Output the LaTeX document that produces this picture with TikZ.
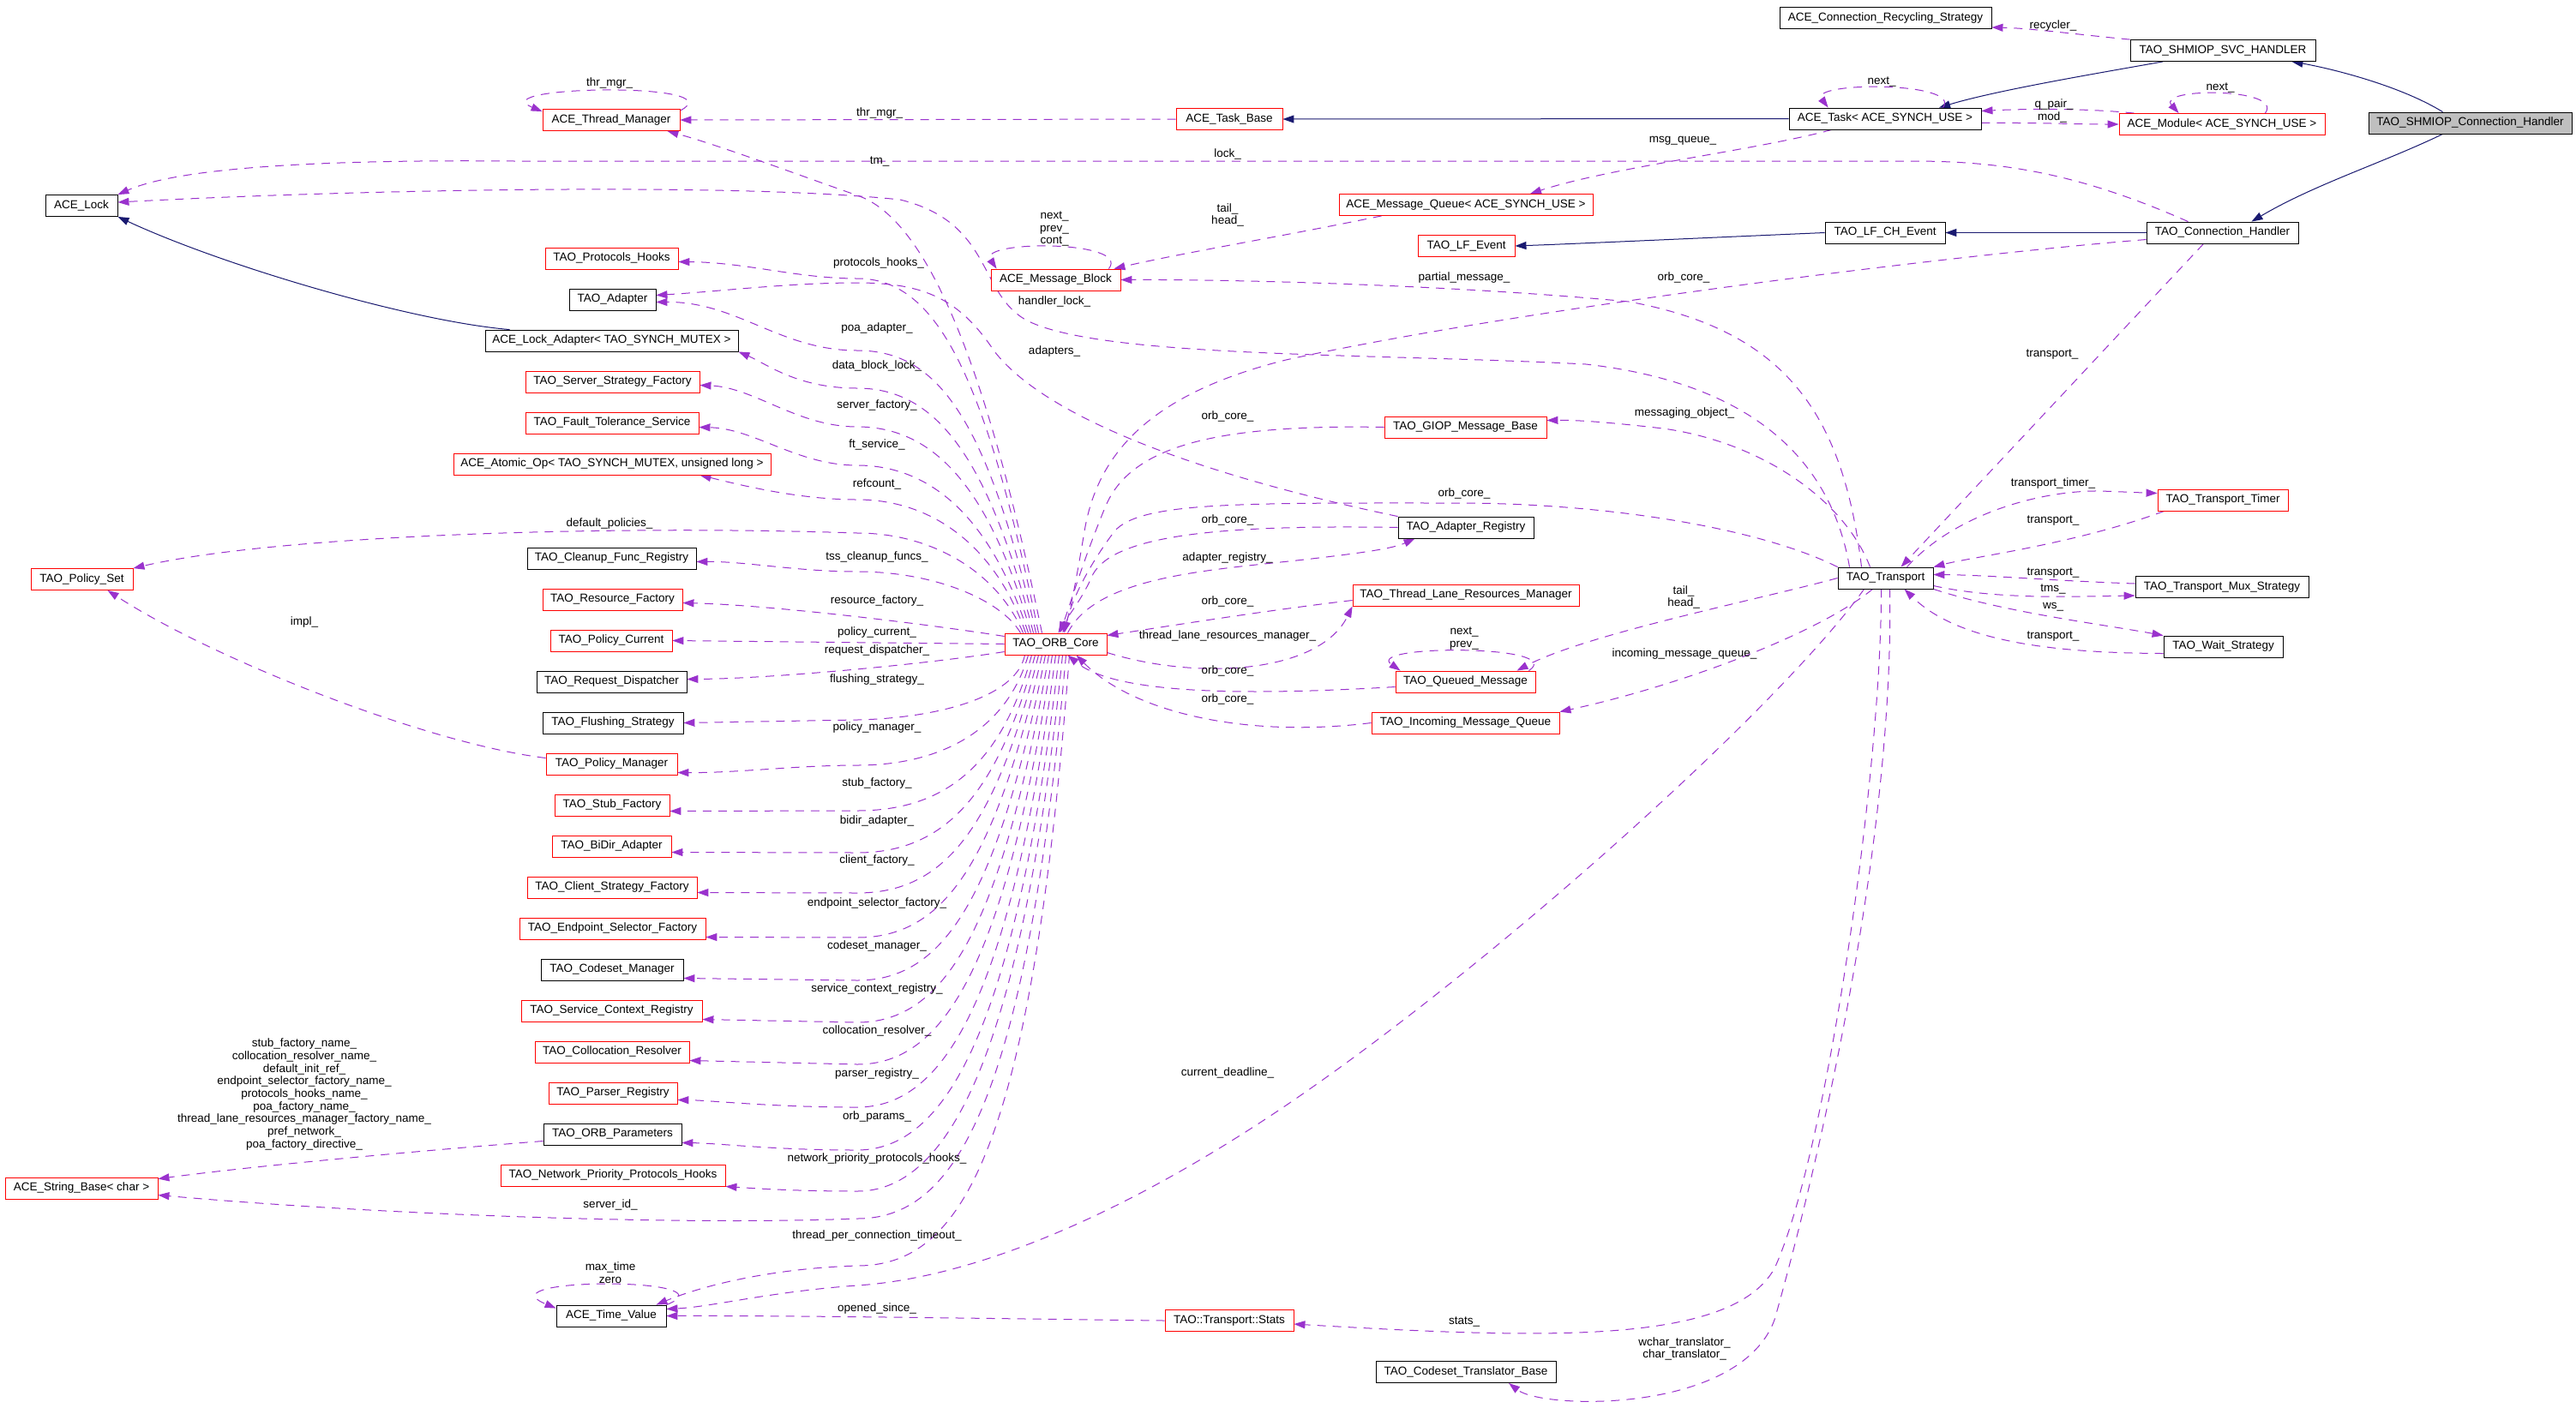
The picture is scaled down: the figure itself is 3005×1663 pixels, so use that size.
\documentclass[tikz,border=0pt]{standalone}
\usepackage{fontspec}
\setmainfont{Liberation Sans}
\usetikzlibrary{arrows.meta}
\definecolor{dxpurple}{HTML}{9A32CD}
\definecolor{dxnavy}{HTML}{191970}
\definecolor{dxgray}{HTML}{BFBFBF}
\newcommand{\dxfont}{\fontsize{13.5}{14.7}\selectfont}
\pgfdeclarelayer{bg}
\pgfdeclarelayer{edges}
\pgfsetlayers{bg,edges,main}
\tikzset{
  cls/.style={draw=black, line width=0.85pt, minimum height=25pt, inner sep=0pt, fill=white, font=\dxfont, text height=9.5pt, text depth=3pt},
  redc/.style={cls, draw=red},
  uedge/.style={draw=dxpurple, line width=1pt, dash pattern=on 10pt off 8pt, -{Triangle[length=13pt,width=9pt]}},
  iedge/.style={draw=dxnavy, line width=1pt, -{Triangle[length=13pt,width=9pt]}},
  lbl/.style={font=\dxfont, inner sep=0pt, text height=9.5pt, text depth=3pt},
  mlbl/.style={font=\dxfont, inner sep=0pt, align=center}
}
\begin{document}
\begin{tikzpicture}[x=1pt,y=-1pt]
\useasboundingbox (0,0) rectangle (3005,1663);
\begin{pgfonlayer}{bg}
\fill[white] (0,0) rectangle (3005,1663);
\end{pgfonlayer}
% ---------------- nodes ----------------
\node[redc, minimum width=160pt] (tm) at (713,140) {ACE\_Thread\_Manager};
\node[cls, minimum width=84pt] (lock) at (95,240) {ACE\_Lock};
\node[redc, minimum width=155pt] (ph) at (713.5,301.5) {TAO\_Protocols\_Hooks};
\node[cls, minimum width=101pt] (adp) at (714.5,349.5) {TAO\_Adapter};
\node[cls, minimum width=295pt] (lad) at (713.5,397.5) {ACE\_Lock\_Adapter< TAO\_SYNCH\_MUTEX >};
\node[redc, minimum width=203pt] (ssf) at (714.5,445.5) {TAO\_Server\_Strategy\_Factory};
\node[redc, minimum width=202pt] (fts) at (714,493.5) {TAO\_Fault\_Tolerance\_Service};
\node[redc, minimum width=370pt] (aop) at (714,541.5) {ACE\_Atomic\_Op< TAO\_SYNCH\_MUTEX, unsigned long >};
\node[redc, minimum width=119pt] (ps) at (95.5,676) {TAO\_Policy\_Set};
\node[cls, minimum width=197pt] (cfr) at (713.5,651.5) {TAO\_Cleanup\_Func\_Registry};
\node[redc, minimum width=163pt] (rf) at (714.5,699.5) {TAO\_Resource\_Factory};
\node[redc, minimum width=142pt] (pc) at (713,747.5) {TAO\_Policy\_Current};
\node[cls, minimum width=175pt] (rd) at (713.5,795.5) {TAO\_Request\_Dispatcher};
\node[cls, minimum width=164pt] (fs) at (715,843.5) {TAO\_Flushing\_Strategy};
\node[redc, minimum width=153pt] (pm) at (713.5,891.5) {TAO\_Policy\_Manager};
\node[redc, minimum width=134pt] (sf) at (714,939.5) {TAO\_Stub\_Factory};
\node[redc, minimum width=139pt] (bda) at (713.5,987.5) {TAO\_BiDir\_Adapter};
\node[redc, minimum width=198pt] (csf) at (714,1035.5) {TAO\_Client\_Strategy\_Factory};
\node[redc, minimum width=217pt] (esf) at (714.5,1083.5) {TAO\_Endpoint\_Selector\_Factory};
\node[cls, minimum width=166pt] (cm) at (714,1131.5) {TAO\_Codeset\_Manager};
\node[redc, minimum width=211pt] (scr) at (713.5,1179.5) {TAO\_Service\_Context\_Registry};
\node[redc, minimum width=180pt] (cr) at (714,1227.5) {TAO\_Collocation\_Resolver};
\node[redc, minimum width=150pt] (pr) at (715,1275.5) {TAO\_Parser\_Registry};
\node[cls, minimum width=161pt] (op) at (714.5,1323.5) {TAO\_ORB\_Parameters};
\node[redc, minimum width=262pt] (nph) at (715,1371.5) {TAO\_Network\_Priority\_Protocols\_Hooks};
\node[redc, minimum width=178pt] (sb) at (95,1386.5) {ACE\_String\_Base< char >};
\node[cls, minimum width=128pt] (tv) at (713,1535.5) {ACE\_Time\_Value};
\node[redc, minimum width=124pt] (tb) at (1434,139) {ACE\_Task\_Base};
\node[redc, minimum width=151pt] (mb) at (1231.5,326.5) {ACE\_Message\_Block};
\node[redc, minimum width=119pt] (orb) at (1231.5,751.5) {TAO\_ORB\_Core};
\node[redc, minimum width=150pt] (sts) at (1434,1541) {TAO::Transport::Stats};
\node[redc, minimum width=296pt] (mq) at (1710,239) {ACE\_Message\_Queue< ACE\_SYNCH\_USE >};
\node[redc, minimum width=113pt] (lfe) at (1710.5,287) {TAO\_LF\_Event};
\node[redc, minimum width=189pt] (giop) at (1709.5,498.5) {TAO\_GIOP\_Message\_Base};
\node[cls, minimum width=158pt] (ar) at (1710,615.5) {TAO\_Adapter\_Registry};
\node[redc, minimum width=264pt] (tlrm) at (1710,694.5) {TAO\_Thread\_Lane\_Resources\_Manager};
\node[redc, minimum width=163pt] (qm) at (1709.5,795.5) {TAO\_Queued\_Message};
\node[redc, minimum width=219pt] (imq) at (1709.5,843.5) {TAO\_Incoming\_Message\_Queue};
\node[cls, minimum width=210pt] (ctb) at (1710,1601) {TAO\_Codeset\_Translator\_Base};
\node[cls, minimum width=247pt] (crs) at (2199.5,21) {ACE\_Connection\_Recycling\_Strategy};
\node[cls, minimum width=224pt] (task) at (2199,138.5) {ACE\_Task< ACE\_SYNCH\_USE >};
\node[cls, minimum width=140pt] (lfch) at (2199,271.5) {TAO\_LF\_CH\_Event};
\node[cls, minimum width=111pt] (tr) at (2199.5,674.5) {TAO\_Transport};
\node[cls, minimum width=216pt] (svc) at (2593,59) {TAO\_SHMIOP\_SVC\_HANDLER};
\node[redc, minimum width=240pt] (mod) at (2592,145) {ACE\_Module< ACE\_SYNCH\_USE >};
\node[cls, minimum width=177pt] (ch) at (2592.5,271.5) {TAO\_Connection\_Handler};
\node[redc, minimum width=152pt] (tt) at (2593,583.5) {TAO\_Transport\_Timer};
\node[cls, minimum width=202pt] (tms) at (2592,685) {TAO\_Transport\_Mux\_Strategy};
\node[cls, minimum width=139pt] (ws) at (2593.5,754.5) {TAO\_Wait\_Strategy};
\node[cls, fill=dxgray, minimum width=237pt] (shm) at (2881.5,143.5) {TAO\_SHMIOP\_Connection\_Handler};
% ---------------- edges ----------------
\begin{pgfonlayer}{edges}
% inheritance
\draw[iedge] ([xshift=-32pt]shm.north) .. controls (2800,100) and (2720,80) .. ([xshift=-28pt]svc.south east);
\draw[iedge] ([xshift=-32pt]shm.south) .. controls (2780,190) and (2700,215) .. ([xshift=34pt]ch.north);
\draw[iedge] ([xshift=-70pt]svc.south) .. controls (2450,85) and (2330,105) .. ([xshift=63pt]task.north);
\draw[iedge] (task.west) -- (tb.east);
\draw[iedge] (ch.west) -- (lfch.east);
\draw[iedge] (lfch.west) .. controls (2000,277) and (1850,284) .. (lfe.east);
\draw[iedge] ([xshift=29pt]lad.north west) .. controls (480,375) and (260,310) .. (lock.south east);
% usage: top right
\draw[uedge] (svc.north west) .. controls (2420,40) and (2370,33) .. ([yshift=2pt]crs.south east);
\draw[uedge] ([xshift=-45pt]task.north east) .. controls (2290,95) and (2110,95) .. ([xshift=46pt]task.north west);
\draw[uedge] ([xshift=-70pt]mod.north east) .. controls (2665,102) and (2515,102) .. ([xshift=70pt]mod.north west);
\draw[uedge] ([xshift=18pt]mod.north west) .. controls (2430,126) and (2360,127) .. ([yshift=9pt]task.east);
\draw[uedge] ([yshift=-5pt]task.east) .. controls (2380,143) and (2420,145) .. (mod.west);
\draw[uedge] ([xshift=50pt]task.south west) .. controls (2050,175) and (1880,195) .. ([xshift=75pt]mq.north);
\draw[uedge] ([xshift=50pt]mq.south west) .. controls (1500,275) and (1380,295) .. ([xshift=-8pt]mb.north east);
\draw[uedge] ([xshift=-14pt]mb.north east) .. controls (1320,280) and (1140,280) .. ([xshift=7pt]mb.north west);
\draw[uedge] (tb.west) -- (tm.east);
\draw[uedge] ([yshift=-2pt]tm.north east) .. controls (860,95) and (560,100) .. ([yshift=-3pt]tm.north west);
\draw[uedge] ([xshift=-16pt]orb.north) .. controls (1150,420) and (1080,255) .. (1000,228) .. controls (920,200) and (840,170) .. ([xshift=-15pt]tm.south east);
\draw[uedge] ([xshift=-40pt]ch.north) .. controls (2420,200) and (2330,188) .. (2230,188) -- (600,188) .. controls (380,186) and (210,195) .. (lock.north east);
\draw[uedge] ([xshift=-42pt]tr.north) .. controls (2140,560) and (2070,450) .. (1850,425) .. controls (1600,412) and (1290,418) .. (1200,375) .. controls (1140,345) and (1160,260) .. (1050,233) .. controls (850,212) and (400,222) .. ([yshift=4pt]lock.east);
\draw[uedge] ([xshift=-28pt]tr.north) .. controls (2150,480) and (2080,385) .. (1900,352) .. controls (1700,333) and (1450,326) .. (mb.east);
\draw[uedge] ([xshift=-18pt]tr.north) .. controls (2150,580) and (2050,515) .. (1940,500) .. controls (1880,493) and (1840,490) .. ([yshift=8pt]giop.east);
\draw[uedge] (tr.north west) .. controls (2050,615) and (1870,587) .. (1700,587) .. controls (1450,587) and (1330,585) .. (1300,620) .. controls (1270,660) and (1250,700) .. ([xshift=10pt]orb.north);
\draw[uedge] ([yshift=-8pt]ch.west) .. controls (2250,300) and (1750,365) .. (1500,420) .. controls (1340,460) and (1280,530) .. (1265,620) .. controls (1255,680) and (1248,715) .. ([xshift=8pt]orb.north);
\draw[uedge] (giop.west) .. controls (1420,495) and (1320,520) .. (1290,590) .. controls (1265,650) and (1250,700) .. ([xshift=5pt]orb.north);
\draw[uedge] (ar.west) .. controls (1420,612) and (1300,625) .. (1275,670) .. controls (1262,700) and (1245,720) .. ([xshift=3pt]orb.north);
\draw[uedge] ([xshift=14pt]orb.north) .. controls (1280,670) and (1420,665) .. (1530,652) .. controls (1590,645) and (1625,640) .. ([xshift=20pt]ar.south west);
\draw[uedge] (ar.north west) .. controls (1450,565) and (1230,500) .. (1160,410) .. controls (1120,350) and (1080,330) .. (1000,330) .. controls (920,330) and (840,340) .. ([yshift=5pt]adp.east);
\draw[uedge] ([yshift=-6pt]tlrm.west) .. controls (1480,712) and (1380,728) .. ([yshift=10pt]orb.east);
\draw[uedge] ([yshift=-10pt]orb.east) .. controls (1400,795) and (1540,785) .. (tlrm.south west);
\draw[uedge] ([yshift=-6pt]qm.west) .. controls (1450,812) and (1300,810) .. ([xshift=14pt]orb.south);
\draw[uedge] ([xshift=-8pt]qm.north east) .. controls (1830,752) and (1590,752) .. ([xshift=6pt]qm.north west);
\draw[uedge] (imq.west) .. controls (1450,862) and (1320,830) .. ([xshift=24pt]orb.south);
% transport
\draw[uedge] (tr.west) .. controls (2050,700) and (1850,740) .. ([xshift=60pt]qm.north);
\draw[uedge] ([xshift=-15pt]tr.south) .. controls (2120,740) and (1960,800) .. (imq.north east);
\draw[uedge] ([xshift=-25pt]tr.south) .. controls (2080,820) and (1750,1120) .. (1500,1290) .. controls (1330,1405) and (1150,1490) .. (1000,1500) .. controls (900,1507) and (830,1525) .. ([yshift=8pt]tv.east);
\draw[uedge] ([xshift=-5pt]tr.south) .. controls (2195,900) and (2130,1350) .. (2070,1480) .. controls (2020,1570) and (1800,1562) .. ([yshift=-4pt]sts.east);
\draw[uedge] ([xshift=5pt]tr.south) .. controls (2210,1000) and (2110,1400) .. (2070,1540) .. controls (2030,1650) and (1800,1645) .. ([xshift=50pt]ctb.south);
\draw[uedge] ([xshift=25pt]tr.north) .. controls (2280,600) and (2380,572) .. (2450,573) .. controls (2480,574) and (2500,575) .. ([yshift=8pt]tt.west);
\draw[uedge] ([xshift=8pt]tt.south west) .. controls (2420,635) and (2300,650) .. (tr.north east);
\draw[uedge] ([xshift=-22pt]ch.south) -- ([xshift=18pt]tr.north);
\draw[uedge] ([yshift=4pt]tms.west) .. controls (2400,678) and (2320,671) .. ([yshift=4pt]tr.east);
\draw[uedge] ([yshift=-9pt]tr.east) .. controls (2330,700) and (2420,696) .. ([yshift=-10pt]tms.west);
\draw[uedge] (tr.south east) .. controls (2340,715) and (2450,728) .. (ws.north west);
\draw[uedge] ([yshift=-8pt]ws.west) .. controls (2380,762) and (2280,745) .. ([xshift=22pt]tr.south);
% ORB core bundle, upward
\draw[uedge] ([xshift=-20pt]orb.north) .. controls (1148,430) and (1090,325) .. (1000,325) .. controls (930,325) and (870,306) .. ([yshift=-4pt]ph.east);
\draw[uedge] ([xshift=-23pt]orb.north) .. controls (1150,480) and (1090,409) .. (1000,409) .. controls (910,409) and (860,352) .. ([yshift=-3pt]adp.east);
\draw[uedge] ([xshift=-26pt]orb.north) .. controls (1152,530) and (1090,453) .. (1000,453) .. controls (930,453) and (895,425) .. (lad.south east);
\draw[uedge] ([xshift=-29pt]orb.north) .. controls (1155,570) and (1090,498) .. (1000,498) .. controls (930,498) and (880,452) .. ([yshift=-4pt]ssf.east);
\draw[uedge] ([xshift=-32pt]orb.north) .. controls (1158,610) and (1090,543) .. (1000,543) .. controls (930,543) and (880,500) .. ([yshift=-5pt]fts.east);
\draw[uedge] ([xshift=-35pt]orb.north) .. controls (1162,640) and (1090,583) .. (1000,583) .. controls (930,583) and (860,565) .. ([xshift=-83pt]aop.south east);
\draw[uedge] ([xshift=-38pt]orb.north) .. controls (1165,670) and (1090,622) .. (1000,622) .. controls (700,612) and (320,625) .. (ps.north east);
\draw[uedge] ([xshift=-41pt]orb.north) .. controls (1168,700) and (1090,667) .. (1000,667) .. controls (930,667) and (870,655) .. ([yshift=-4pt]cfr.east);
% ORB core bundle, level and downward
\draw[uedge] ([yshift=9pt]orb.west) .. controls (1080,728) and (900,706) .. ([yshift=-4pt]rf.east);
\draw[uedge] (orb.west) -- (pc.east);
\draw[uedge] ([yshift=-9pt]orb.west) .. controls (1080,775) and (900,792) .. ([yshift=3pt]rd.east);
\draw[uedge] ([xshift=-36pt]orb.south) .. controls (1185,815) and (1090,838) .. (1000,840) -- (fs.east);
\draw[uedge] ([xshift=-32pt]orb.south) .. controls (1175,850) and (1100,893) .. (1000,893) .. controls (930,893) and (860,902) .. ([yshift=-10pt]pm.east);
\draw[uedge] ([xshift=-28pt]orb.south) .. controls (1168,895) and (1100,946) .. (1000,946) -- ([yshift=-7pt]sf.east);
\draw[uedge] ([xshift=-24pt]orb.south) .. controls (1163,930) and (1100,995) .. (1000,995) -- ([yshift=-7pt]bda.east);
\draw[uedge] ([xshift=-20pt]orb.south) .. controls (1160,970) and (1100,1042) .. (1000,1042) -- ([yshift=-6pt]csf.east);
\draw[uedge] ([xshift=-16pt]orb.south) .. controls (1160,1010) and (1100,1094) .. (1000,1094) -- ([yshift=-10pt]esf.east);
\draw[uedge] ([xshift=-12pt]orb.south) .. controls (1163,1050) and (1100,1144) .. (1000,1144) -- ([yshift=-10pt]cm.east);
\draw[uedge] ([xshift=-8pt]orb.south) .. controls (1167,1090) and (1100,1193) .. (1000,1193) -- ([yshift=-10pt]scr.east);
\draw[uedge] ([xshift=-4pt]orb.south) .. controls (1172,1130) and (1100,1242) .. (1000,1242) -- ([yshift=-10pt]cr.east);
\draw[uedge] (orb.south) .. controls (1178,1170) and (1100,1292) .. (1000,1292) .. controls (900,1292) and (830,1284) .. ([yshift=-8pt]pr.east);
\draw[uedge] ([xshift=4pt]orb.south) .. controls (1184,1210) and (1100,1342) .. (1000,1342) .. controls (900,1342) and (840,1334) .. ([yshift=-10pt]op.east);
\draw[uedge] ([xshift=8pt]orb.south) .. controls (1190,1250) and (1100,1390) .. (1000,1390) .. controls (920,1390) and (870,1386) .. (nph.south east);
\draw[uedge] ([xshift=12pt]orb.south) .. controls (1196,1300) and (1110,1422) .. (1000,1422) .. controls (800,1430) and (450,1418) .. ([yshift=-8pt]sb.east);
\draw[uedge] ([xshift=16pt]orb.south) .. controls (1203,1350) and (1120,1477) .. (1000,1477) .. controls (900,1480) and (820,1500) .. ([xshift=-12pt]tv.north east);
% left side
\draw[uedge] ([yshift=7pt]pm.west) .. controls (500,868) and (250,770) .. ([xshift=30pt]ps.south);
\draw[uedge] ([yshift=-8pt]op.west) .. controls (500,1342) and (300,1360) .. ([yshift=-2pt]sb.north east);
\draw[uedge] (sts.west) .. controls (1250,1540) and (950,1535) .. (tv.east);
\draw[uedge] (tv.north east) .. controls (860,1490) and (560,1490) .. ([yshift=-4pt]tv.north west);
\end{pgfonlayer}
% ---------------- labels ----------------
\node[lbl] (l1) at (2395,30) {recycler\_};
\node[lbl] (l2) at (2195,95) {next\_};
\node[lbl] (l3) at (2590,102) {next\_};
\node[lbl] (l4) at (2396,122) {q\_pair\_};
\node[lbl] (l5) at (2394,137) {mod\_};
\node[lbl] (l6) at (711,97) {thr\_mgr\_};
\node[lbl] (l7) at (1026,132) {thr\_mgr\_};
\node[lbl] (l8) at (1432,180) {lock\_};
\node[lbl] (l9) at (1026,188) {tm\_};
\node[lbl] (l10) at (1963,163) {msg\_queue\_};
\node[mlbl] (l11) at (1432,251) {tail\_\\head\_};
\node[mlbl] (l12) at (1230,267) {next\_\\prev\_\\cont\_};
\node[lbl] (l13) at (1230,352) {handler\_lock\_};
\node[lbl] (l14) at (1025,307) {protocols\_hooks\_};
\node[lbl] (l15) at (1708,324) {partial\_message\_};
\node[lbl] (l16) at (1964,324) {orb\_core\_};
\node[lbl] (l17) at (1023,383) {poa\_adapter\_};
\node[lbl] (l18) at (1230,410) {adapters\_};
\node[lbl] (l19) at (2394,413) {transport\_};
\node[lbl] (l20) at (1023,427) {data\_block\_lock\_};
\node[lbl] (l21) at (1023,473) {server\_factory\_};
\node[lbl] (l22) at (1432,486) {orb\_core\_};
\node[lbl] (l23) at (1965,482) {messaging\_object\_};
\node[lbl] (l24) at (1023,519) {ft\_service\_};
\node[lbl] (l25) at (1023,565) {refcount\_};
\node[lbl] (l26) at (2395,564) {transport\_timer\_};
\node[lbl] (l27) at (1708,576) {orb\_core\_};
\node[lbl] (l28) at (1432,607) {orb\_core\_};
\node[lbl] (l29) at (2395,607) {transport\_};
\node[lbl] (l30) at (711,611) {default\_policies\_};
\node[lbl] (l31) at (1023,650) {tss\_cleanup\_funcs\_};
\node[lbl] (l32) at (1432,651) {adapter\_registry\_};
\node[lbl] (l33) at (2395,668) {transport\_};
\node[lbl] (l34) at (2395,687) {tms\_};
\node[mlbl] (l35) at (1964,697) {tail\_\\head\_};
\node[lbl] (l36) at (1023,701) {resource\_factory\_};
\node[lbl] (l37) at (1432,702) {orb\_core\_};
\node[lbl] (l38) at (2395,707) {ws\_};
\node[lbl] (l39) at (355,726) {impl\_};
\node[lbl] (l40) at (1023,738) {policy\_current\_};
\node[mlbl] (l41) at (1708,745) {next\_\\prev\_};
\node[lbl] (l42) at (1432,742) {thread\_lane\_resources\_manager\_};
\node[lbl] (l43) at (2395,742) {transport\_};
\node[lbl] (l44) at (1023,759) {request\_dispatcher\_};
\node[lbl] (l45) at (1965,763) {incoming\_message\_queue\_};
\node[lbl] (l46) at (1432,783) {orb\_core\_};
\node[lbl] (l47) at (1023,793) {flushing\_strategy\_};
\node[lbl] (l48) at (1432,816) {orb\_core\_};
\node[lbl] (l49) at (1023,849) {policy\_manager\_};
\node[lbl] (l50) at (1023,914) {stub\_factory\_};
\node[lbl] (l51) at (1023,958) {bidir\_adapter\_};
\node[lbl] (l52) at (1023,1004) {client\_factory\_};
\node[lbl] (l53) at (1023,1054) {endpoint\_selector\_factory\_};
\node[lbl] (l54) at (1023,1104) {codeset\_manager\_};
\node[lbl] (l55) at (1023,1154) {service\_context\_registry\_};
\node[lbl] (l56) at (1023,1203) {collocation\_resolver\_};
\node[lbl] (l57) at (1023,1253) {parser\_registry\_};
\node[lbl] (l58) at (1432,1252) {current\_deadline\_};
\node[mlbl] (l59) at (355,1277) {stub\_factory\_name\_\\collocation\_resolver\_name\_\\default\_init\_ref\_\\endpoint\_selector\_factory\_name\_\\protocols\_hooks\_name\_\\poa\_factory\_name\_\\thread\_lane\_resources\_manager\_factory\_name\_\\pref\_network\_\\poa\_factory\_directive\_};
\node[lbl] (l60) at (1023,1303) {orb\_params\_};
\node[lbl] (l61) at (1023,1352) {network\_priority\_protocols\_hooks\_};
\node[lbl] (l62) at (712,1406) {server\_id\_};
\node[lbl] (l63) at (1023,1442) {thread\_per\_connection\_timeout\_};
\node[mlbl] (l64) at (712,1485) {max\_time\\zero};
\node[lbl] (l65) at (1023,1527) {opened\_since\_};
\node[lbl] (l66) at (1708,1542) {stats\_};
\node[mlbl] (l67) at (1965,1574) {wchar\_translator\_\\char\_translator\_};
\end{tikzpicture}
\end{document}
